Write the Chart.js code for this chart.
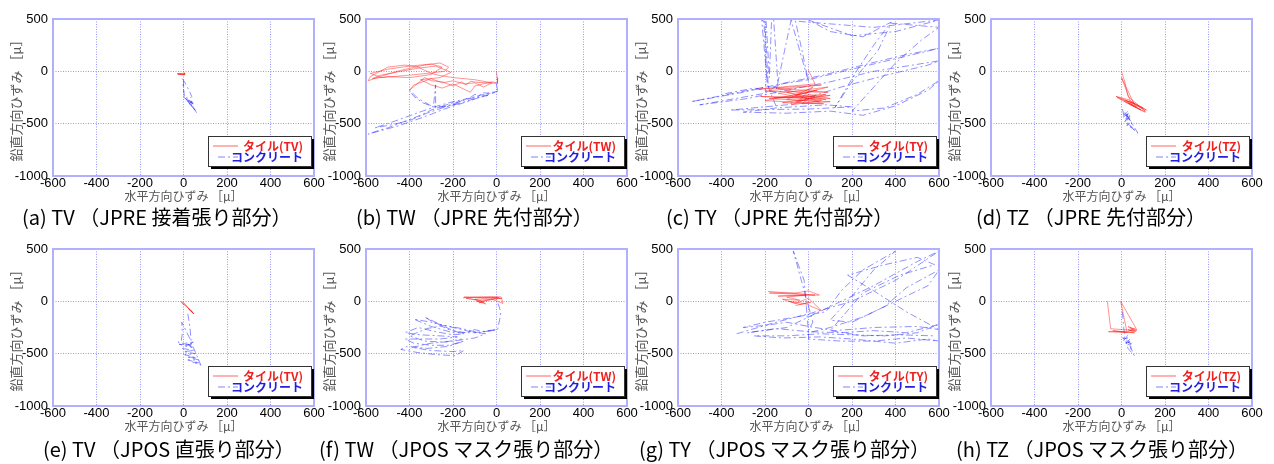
<!DOCTYPE html>
<html>
<head>
<meta charset="utf-8">
<script src="https://cdn.jsdelivr.net/npm/chart.js@4.4.0/dist/chart.umd.min.js"></script>
<style>
  body { margin: 0; background: #fff; width: 1274px; height: 464px; overflow: hidden; position: relative; }
  canvas { position: absolute; }
  .cap { position: absolute; font-family: "Noto Sans CJK JP"; font-size: 20px; line-height: 20px; white-space: nowrap; color: #000; }
</style>
</head>
<body>
<script>
// 目盛り
const xTicks = [-600, -400, -200, 0, 200, 400, 600];
const yTicks = [-1000, -500, 0, 500];

// パネルごとの見出しと凡例
const captions = [
  '(a) TV （JPRE 接着張り部分）', '(b) TW （JPRE 先付部分）', '(c) TY （JPRE 先付部分）', '(d) TZ （JPRE 先付部分）',
  '(e) TV （JPOS 直張り部分）', '(f) TW （JPOS マスク張り部分）', '(g) TY （JPOS マスク張り部分）', '(h) TZ （JPOS マスク張り部分）'
];
const tileLabels = ['タイル(TV)', 'タイル(TW)', 'タイル(TY)', 'タイル(TZ)', 'タイル(TV)', 'タイル(TW)', 'タイル(TY)', 'タイル(TZ)'];
const concLabel = 'コンクリート';

// 読み取った軌跡 [水平, 鉛直]
const tileTvJpre = [[-30,-20],[0,-25],[5,-15],[5,-35],[-25,-28],[0,-30],[4,-20],[-28,-25],[2,-32],[5,-25]];
const concTvJpre = [[-5,-70],[10,-120],[25,-180],[38,-240],[30,-260],[5,-250],[-2,-140],[0,-90],[2,-250],[15,-270],[40,-290],[20,-275],[45,-300],[10,-260],[35,-330],[42,-290],[25,-310],[48,-340],[30,-320],[55,-370],[45,-350],[60,-395],[40,-330],[20,-290],[45,-310],[15,-280],[40,-300]];

const tileTwJpre = [[0,0],[3,-60],[5,-115],[-40,-110],[-90,-105],[-120,-95],[-140,-130],[-160,-100],[-200,-140],[-250,-100],[-300,-90],[-330,-60],[-400,-180],[-380,-130],[-300,-70],[-250,-110],[-200,-90],[-150,-120],[-100,-110],[-60,-150],[-20,-110],[-100,-80],[-200,-60],[-260,-40],[-300,-20],[-360,40],[-420,60],[-500,40],[-580,-50],[-590,-90],[-520,-40],[-440,10],[-330,60],[-260,80],[-220,40],[-240,0],[-320,-20],[-420,-40],[-530,-60],[-580,-20],[-500,20],[-400,50],[-300,70],[-250,40],[-300,-30],[-400,-60],[-500,-50],[-570,-70],[-540,-40],[-440,0],[-360,30],[-280,50],[-230,10],[-210,-10],[-260,-60],[-350,-80],[-300,-130],[-250,-160],[-200,-120],[-150,-170],[-120,-200],[-100,-140],[-60,-120],[-20,-100],[0,-110]];
const concTwJpre = [[0,-120],[5,-180],[0,-200],[-30,-210],[-60,-205],[-80,-230],[-100,-220],[-120,-250],[-150,-270],[-170,-290],[-200,-300],[-230,-320],[-260,-340],[-300,-370],[-350,-420],[-400,-460],[-450,-500],[-500,-540],[-550,-570],[-590,-600],[-520,-560],[-450,-520],[-380,-470],[-300,-410],[-240,-360],[-180,-320],[-120,-280],[-80,-250],[-40,-230],[-100,-260],[-160,-300],[-220,-330],[-280,-350],[-280,-220],[-280,-130],[-290,-340],[-340,-300],[-380,-240],[-400,-180],[-360,-260],[-300,-330],[-240,-340],[-200,-310],[-140,-270],[-80,-240],[-30,-220],[5,-190],[-60,-220],[-130,-260],[-200,-290],[-270,-330],[-340,-380],[-420,-440],[-500,-500],[-560,-540],[-480,-510],[-400,-470],[-320,-400],[-250,-350],[-180,-310]];

const tileTyJpre = [[0,10],[30,-120],[-230,-170],[60,-130],[-200,-190],[90,-200],[-150,-160],[100,-260],[-220,-240],[80,-270],[-100,-200],[50,-290],[-180,-260],[100,-230],[-120,-300],[70,-310],[-200,-280],[40,-180],[-60,-230],[90,-150],[-140,-210],[60,-280],[-80,-320],[30,-240],[-160,-250],[80,-220],[-50,-290],[20,-150],[-100,-270],[100,-290],[-30,-310],[0,-260]];
const concTyJpre = [[-150,-330],[-190,-120],[-205,480],[-195,490],[-180,-60],[-170,480],[-160,490],[-140,-140],[-185,-150],[-200,470],[-215,490],[-190,-100],[-200,-150],[-540,-290],[-300,-200],[-150,-130],[0,-80],[200,20],[400,120],[600,220],[450,160],[250,60],[60,-40],[-130,-120],[-200,-210],[-500,-320],[-280,-260],[-100,-180],[100,-100],[300,0],[600,100],[550,60],[350,-40],[150,-150],[0,-250],[-100,-320],[-360,-370],[0,-360],[200,-340],[80,-320],[-150,-350],[-300,-390],[-100,-400],[100,-380],[250,-420],[400,-330],[550,-180],[600,-90],[500,-220],[350,-350],[200,-380],[300,-150],[400,80],[520,300],[600,420],[380,460],[320,200],[200,-100],[120,-350],[220,0],[300,250],[380,470],[250,330],[100,380],[0,490],[200,340],[400,380],[600,490],[300,420],[-60,480],[-30,200],[0,-100],[-80,490],[-120,100],[-150,-200],[-250,-160],[-400,-220]];

const tileTzJpre = [[0,0],[15,-100],[30,-240],[110,-380],[40,-280],[0,-60],[60,-320],[115,-370],[30,-270],[-25,-240],[50,-300],[100,-350],[20,-280],[60,-310],[-20,-250],[40,-320],[110,-390],[50,-330],[10,-280],[70,-340],[30,-300],[90,-370],[40,-310]];
const concTzJpre = [[5,-360],[10,-420],[30,-380],[20,-460],[40,-420],[15,-480],[35,-450],[25,-520],[45,-480],[50,-540],[30,-500],[60,-560],[40,-530],[75,-590],[20,-400],[5,-440],[35,-400],[40,-470],[15,-390],[30,-440],[10,-400],[35,-420],[25,-470]];

const tileTvJpos = [[-15,0],[5,-20],[20,-60],[45,-110],[10,-40],[-10,-10],[30,-80],[45,-115],[25,-75],[40,-100],[35,-95],[48,-120],[20,-65]];
const concTvJpos = [[20,-120],[30,-250],[35,-380],[-8,-200],[-5,-300],[-10,-380],[-25,-390],[30,-420],[-20,-410],[40,-440],[10,-400],[45,-390],[-5,-450],[50,-470],[0,-480],[55,-500],[5,-510],[60,-540],[15,-530],[70,-560],[20,-560],[75,-590],[40,-580],[80,-610],[45,-440],[35,-400],[40,-430],[20,-410],[45,-420]];

const tileTwJpos = [[-154,34],[0,45],[22,41],[30,-20],[-20,20],[-80,10],[-140,30],[-100,15],[-60,-10],[-90,0],[-50,-25],[-70,5],[-100,20],[-30,30],[20,30],[-40,10],[-80,-15],[-60,5],[10,35],[-150,40],[-20,40],[25,25]];
const concTwJpos = [[7,-20],[20,-100],[15,-170],[5,-270],[-20,-280],[-60,-290],[-100,-270],[-140,-300],[-200,-280],[-260,-220],[-330,-150],[-290,-200],[-220,-270],[-150,-310],[-200,-320],[-280,-290],[-360,-250],[-420,-300],[-350,-320],[-260,-330],[-180,-340],[-260,-360],[-340,-360],[-420,-360],[-380,-400],[-300,-420],[-220,-420],[-150,-380],[-220,-430],[-320,-450],[-410,-430],[-440,-460],[-360,-490],[-270,-510],[-190,-520],[-150,-470],[-200,-480],[-300,-470],[-390,-440],[-300,-400],[-200,-380],[-100,-350],[-50,-310],[-120,-290],[-200,-250],[-300,-200],[-380,-170],[-300,-240],[-200,-300],[-100,-300],[-40,-280],[0,-270],[-80,-300],[-160,-260],[-240,-230],[-320,-260],[-400,-330],[-330,-380],[-240,-390],[-160,-360]];

const tileTyJpos = [[-186,95],[30,60],[-180,80],[-60,80],[0,100],[50,60],[-140,50],[-10,60],[-100,40],[-40,10],[-120,20],[-60,-20],[0,30],[60,-90],[-20,-20],[-90,0],[-40,-30],[10,-10],[-60,-40]];
const concTyJpos = [[-330,-310],[-150,-200],[0,-120],[200,0],[400,200],[600,480],[500,380],[300,150],[100,-50],[-100,-250],[-280,-300],[-150,-260],[0,-290],[150,-300],[300,-280],[450,-300],[600,-220],[500,-300],[350,-330],[200,-320],[50,-310],[-100,-330],[-250,-330],[-120,-350],[50,-340],[200,-360],[400,-400],[550,-360],[600,-380],[450,-350],[300,-380],[150,-380],[0,-360],[0,-280],[20,-200],[-70,480],[-20,200],[0,-300],[100,-250],[250,-150],[400,0],[550,150],[600,300],[450,130],[350,-50],[200,-200],[100,-180],[200,50],[300,300],[400,480],[250,300],[150,100],[80,-100],[-200,-200],[-300,-250],[-200,-230],[-100,-200],[0,-240],[120,-280],[300,-250],[500,-240],[600,-270],[450,-100],[300,100],[180,250],[350,350],[500,420],[580,350],[420,250],[250,80],[100,-280],[250,-330],[420,-320],[580,-330]];

const tileTzJpos = [[-65,0],[-50,-262],[70,-280],[30,-240],[60,-300],[-60,-290],[25,-290],[-4,0],[70,-270],[40,-250],[65,-290],[30,-270],[55,-300],[-40,-280],[20,-300],[60,-260]];
const concTzJpos = [[4,-100],[10,-250],[15,-330],[8,-380],[30,-320],[20,-400],[40,-360],[25,-420],[45,-400],[35,-440],[50,-460],[40,-430],[58,-515],[30,-450],[20,-380],[5,-350],[30,-360],[15,-400],[40,-390],[25,-370],[45,-430]];

const tileSeries = [tileTvJpre, tileTwJpre, tileTyJpre, tileTzJpre, tileTvJpos, tileTwJpos, tileTyJpos, tileTzJpos];
const concSeries = [concTvJpre, concTwJpre, concTyJpre, concTzJpre, concTvJpos, concTwJpos, concTyJpos, concTzJpos];

// 配置
const plotLefts = [53, 366, 678, 991];
const plotTops = [19, 249];
const capPos = [[22, 207], [356, 207], [666, 207], [976, 207], [43, 439], [319, 439], [639, 439], [956, 439]];

const tileColor = 'rgba(255,20,20,0.65)';
const concColor = 'rgba(30,30,255,0.55)';
const gridColor = 'rgba(80,80,255,0.6)';
const tickFont = { family: 'Liberation Sans', size: 13 };

const toXY = arr => arr.map(p => ({ x: p[0], y: p[1] }));

// プロット枠
const framePlugin = {
  id: 'frame',
  afterDatasetsDraw(chart) {
    const { ctx, chartArea: a } = chart;
    ctx.save();
    ctx.strokeStyle = '#b0b0ff';
    ctx.lineWidth = 2;
    ctx.strokeRect(a.left, a.top, a.right - a.left, a.bottom - a.top);
    ctx.restore();
  }
};

// 影付きの凡例
const boxLegend = {
  id: 'boxLegend',
  afterDraw(chart) {
    const { ctx, chartArea: a } = chart;
    const w = 103, h = 30;
    const x = a.right - 3 - w, y = a.bottom - 10 - h;
    ctx.save();
    ctx.fillStyle = '#000';
    ctx.fillRect(x + 3, y + 3, w, h);
    ctx.fillStyle = '#fff';
    ctx.fillRect(x, y, w, h);
    ctx.strokeStyle = '#333';
    ctx.lineWidth = 1;
    ctx.strokeRect(x + 0.5, y + 0.5, w, h);
    ctx.font = 'bold 12px "Noto Sans CJK JP"';
    ctx.textAlign = 'right';
    ctx.textBaseline = 'middle';
    chart.data.datasets.forEach((ds, k) => {
      const ly = y + 10 + k * 11;
      ctx.strokeStyle = ds.borderColor;
      ctx.setLineDash(ds.borderDash || []);
      ctx.beginPath();
      ctx.moveTo(x + (k ? 10 : 5), ly);
      ctx.lineTo(x + 30, ly);
      ctx.stroke();
      ctx.setLineDash([]);
      ctx.fillStyle = k ? '#2020e0' : '#ee2020';
      ctx.fillText(ds.label, x + w - 8, ly);
    });
    ctx.restore();
  }
};

function axis(ticks, title, titleSize, fit) {
  return {
    type: 'linear',
    min: ticks[0],
    max: ticks[ticks.length - 1],
    afterBuildTicks: s => { s.ticks = ticks.map(v => ({ value: v })); },
    afterFit: fit,
    ticks: { font: tickFont, color: '#000', padding: 5, callback: v => String(v) },
    grid: { color: gridColor, lineWidth: 1, drawTicks: false },
    border: { display: false, dash: [1, 1.5] },
    title: { display: true, text: title, color: '#555', font: { family: 'Noto Sans CJK JP', size: titleSize }, padding: 0 }
  };
}

tileSeries.forEach((tile, i) => {
  const col = i % 4, row = Math.floor(i / 4);
  const cv = document.createElement('canvas');
  cv.width = 319;
  cv.height = 206;
  cv.style.left = (plotLefts[col] - 45) + 'px';
  cv.style.top = (plotTops[row] - 19) + 'px';
  document.body.appendChild(cv);

  const xAxis = axis(xTicks, '水平方向ひずみ ［μ］', 12, s => { s.height = 28; });
  xAxis.ticks.padding = 0;
  const yAxis = axis(yTicks, '鉛直方向ひずみ ［μ］', 13, s => { s.width = 45; });

  new Chart(cv, {
    type: 'scatter',
    data: {
      datasets: [
        { label: tileLabels[i], data: toXY(tile), showLine: true, borderColor: tileColor, borderWidth: 0.7, pointRadius: 0 },
        { label: concLabel, data: toXY(concSeries[i]), showLine: true, borderColor: concColor, borderWidth: 0.9, borderDash: [7, 3, 2, 3], pointRadius: 0 }
      ]
    },
    options: {
      responsive: false,
      animation: false,
      layout: { padding: { left: 0, top: 19, right: 13, bottom: 2 } },
      plugins: { legend: { display: false }, tooltip: { enabled: false } },
      scales: { x: xAxis, y: yAxis }
    },
    plugins: [framePlugin, boxLegend]
  });

  const cap = document.createElement('div');
  cap.className = 'cap';
  cap.textContent = captions[i];
  cap.style.left = capPos[i][0] + 'px';
  cap.style.top = capPos[i][1] + 'px';
  document.body.appendChild(cap);
});
</script>
</body>
</html>
